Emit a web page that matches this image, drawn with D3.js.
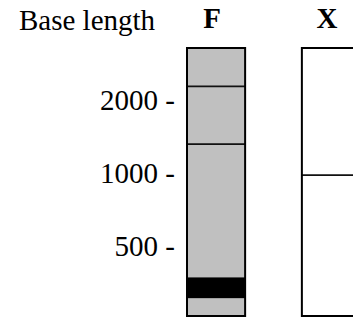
<!DOCTYPE html>
<html>
<head>
<meta charset="utf-8">
<script src="https://cdn.jsdelivr.net/npm/d3@7"></script>
<style>
body { margin: 0; background: #fff; }
svg { display: block; }
</style>
</head>
<body>
<div id="gel"></div>
<script>
// lanes and the band positions (base length) in each
var lanes = ["F", "X"];
var laneLines = [[2300, 1330], [990]];
var laneBlocks = [[[308, 375]], []];
var laneFill = ["#c0c0c0", "#ffffff"];
var tickValues = [2000, 1000, 500];
var gelRange = [260, 3310];

var svg = d3.select("#gel").append("svg").attr("width", 353).attr("height", 320);

var font = "'Liberation Serif', 'Times New Roman', serif";

// log scale for base length
var y = d3.scaleLog()
  .domain(gelRange)
  .range([316, 48]);

var x = d3.scaleBand()
  .domain(lanes)
  .range([187, 360])
  .paddingInner(0.494)
  .paddingOuter(0);

svg.append("text")
  .attr("x", 19)
  .attr("y", 30)
  .attr("font-family", font)
  .attr("font-size", 29)
  .text("Base length");

var axis = svg.append("g")
  .attr("transform", "translate(175,0)")
  .call(d3.axisLeft(y).tickValues(tickValues).tickSize(0).tickPadding(0)
    .tickFormat(function(d) { return d + " -"; }));
axis.select(".domain").remove();
axis.selectAll("text")
  .attr("font-family", font)
  .attr("font-size", 29)
  .attr("fill", "#000")
  .attr("dy", "0.3em");

var lane = svg.selectAll(".lane")
  .data(lanes)
  .enter().append("g")
  .attr("class", "lane");

lane.append("rect")
  .attr("x", function(d) { return x(d); })
  .attr("y", y(gelRange[1]))
  .attr("width", x.bandwidth())
  .attr("height", y(gelRange[0]) - y(gelRange[1]))
  .attr("fill", function(d, i) { return laneFill[i]; });

lane.selectAll(".block")
  .data(function(d, i) { return laneBlocks[i].map(function(b) { return {lane: d, b: b}; }); })
  .enter().append("rect")
  .attr("x", function(d) { return x(d.lane); })
  .attr("y", function(d) { return y(d.b[1]); })
  .attr("width", x.bandwidth())
  .attr("height", function(d) { return y(d.b[0]) - y(d.b[1]); })
  .attr("fill", "#000");

lane.selectAll(".band")
  .data(function(d, i) { return laneLines[i].map(function(v) { return {lane: d, v: v}; }); })
  .enter().append("line")
  .attr("x1", function(d) { return x(d.lane); })
  .attr("x2", function(d) { return x(d.lane) + x.bandwidth(); })
  .attr("y1", function(d) { return y(d.v); })
  .attr("y2", function(d) { return y(d.v); })
  .attr("stroke", "#111")
  .attr("stroke-width", 1.8);

lane.append("rect")
  .attr("x", function(d) { return x(d); })
  .attr("y", y(gelRange[1]))
  .attr("width", x.bandwidth())
  .attr("height", y(gelRange[0]) - y(gelRange[1]))
  .attr("fill", "none")
  .attr("stroke", "#000")
  .attr("stroke-width", 2);

lane.append("text")
  .attr("x", function(d) { return x(d) + x.bandwidth() / 2 - 4; })
  .attr("y", 28)
  .attr("text-anchor", "middle")
  .attr("font-family", font)
  .attr("font-weight", "bold")
  .attr("font-size", 29)
  .text(function(d) { return d; });
</script>
</body>
</html>
